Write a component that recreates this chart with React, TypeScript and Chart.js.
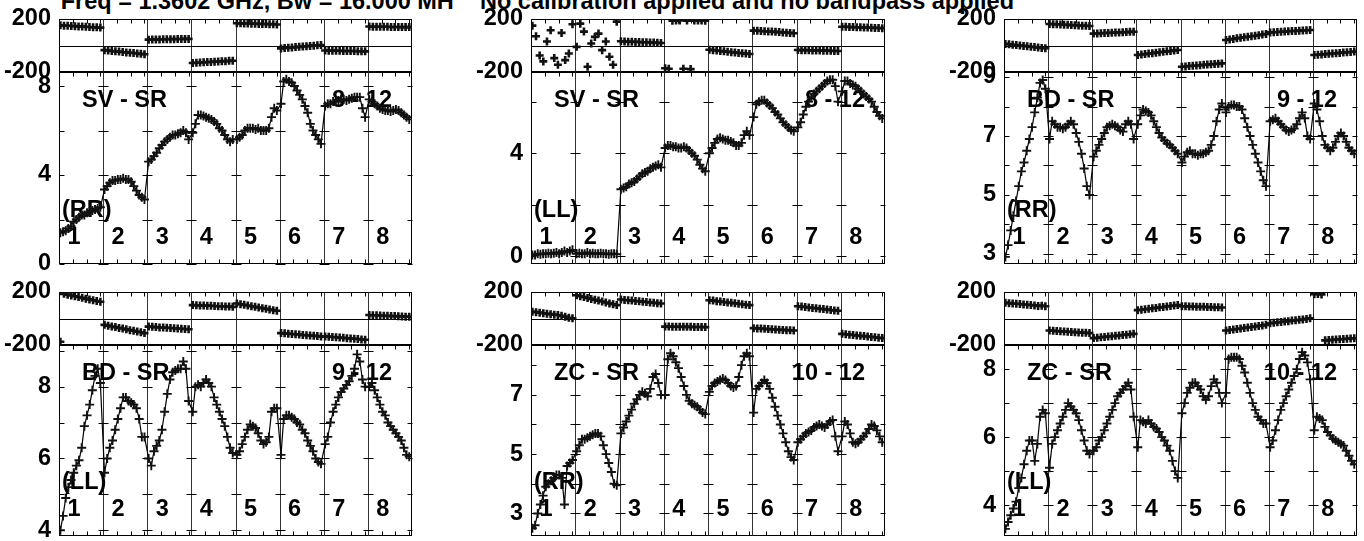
import { useEffect, useRef } from 'react';
import { Chart, registerables } from 'chart.js';

Chart.register(...registerables);

const FONT_FAMILY = '"Liberation Sans", Arial, Helvetica, sans-serif';
const FONT_SIZE = 23.5;

const TITLE_FREQ = 'Freq = 1.3602 GHz, Bw = 16.000 MH';
const TITLE_CAL = 'No calibration applied and no bandpass applied';

const IF_NUMBERS = ['1', '2', '3', '4', '5', '6', '7', '8'];
const CHANNELS_PER_IF = 32;
const CHANNEL_TICKS = [10, 20, 30];
const AMP_SAMPLES = 16;
const PHASE_SAMPLES = 12;

const PHASE_MIN = -200;
const PHASE_MAX = 200;
const PHASE_TICKS = [-200, 200];

const BASELINES = ['SV - SR', 'SV - SR', 'BD - SR', 'BD - SR', 'ZC - SR', 'ZC - SR'];
const IF_GROUPS = ['8 - 12', '8 - 12', '9 - 12', '9 - 12', '10 - 12', '10 - 12'];
const POLS = ['(RR)', '(LL)', '(RR)', '(LL)', '(RR)', '(LL)'];

const AMP_MIN = [0, -0.3, 2.66, 3.84, 2.24, 3.09];
const AMP_MAX = [8.63, 7.15, 9.17, 9.16, 8.68, 8.71];
const AMP_LABEL_TICKS = [[0, 4, 8], [0, 4], [3, 5, 7, 9], [4, 6, 8], [3, 5, 7], [4, 6, 8]];
const AMP_MINOR_STEP = [2, 2, 1, 1, 1, 1];

// Amplitude per IF (16 samples across each IF)
const AMP_SV_RR = [
  [1.4, 1.45, 1.5, 1.6, 1.7, 1.9, 2.0, 2.1, 2.2, 2.2, 2.3, 2.35, 2.4, 2.45, 2.5, 2.55],
  [3.35, 3.5, 3.65, 3.75, 3.75, 3.8, 3.8, 3.85, 3.8, 3.8, 3.7, 3.5, 3.3, 3.1, 3.0, 2.9],
  [4.6, 4.7, 4.85, 5.0, 5.2, 5.35, 5.5, 5.6, 5.7, 5.8, 5.8, 5.85, 5.9, 6.0, 5.9, 5.6],
  [5.9, 6.3, 6.7, 6.7, 6.65, 6.6, 6.55, 6.5, 6.4, 6.3, 6.1, 6.0, 5.8, 5.6, 5.5, 5.6],
  [5.6, 5.7, 5.8, 6.0, 6.1, 6.1, 6.1, 6.05, 6.1, 6.0, 6.0, 6.0, 6.1, 6.6, 7.0, 6.9],
  [7.2, 8.2, 8.3, 8.2, 8.15, 8.0, 7.8, 7.6, 7.4, 7.1, 6.8, 6.3, 6.0, 5.8, 5.6, 5.4],
  [7.1, 7.2, 7.2, 7.3, 7.3, 7.35, 7.4, 7.4, 7.35, 7.4, 7.45, 7.5, 7.5, 7.5, 7.0, 6.6],
  [7.4, 7.3, 7.2, 7.1, 7.0, 6.95, 6.9, 6.9, 6.85, 6.9, 6.95, 6.9, 6.8, 6.7, 6.6, 6.5],
];
const AMP_SV_LL = [
  [0.05, 0.05, 0.1, 0.08, 0.1, 0.1, 0.12, 0.1, 0.12, 0.15, 0.1, 0.15, 0.2, 0.15, 0.2, 0.25],
  [0.1, 0.12, 0.1, 0.1, 0.15, 0.1, 0.12, 0.1, 0.1, 0.12, 0.1, 0.1, 0.08, 0.1, 0.1, 0.08],
  [2.6, 2.65, 2.7, 2.8, 2.85, 2.9, 3.0, 3.1, 3.2, 3.25, 3.3, 3.4, 3.45, 3.5, 3.55, 3.45],
  [4.2, 4.3, 4.3, 4.25, 4.25, 4.2, 4.2, 4.25, 4.2, 4.1, 4.0, 3.9, 3.75, 3.55, 3.4, 3.3],
  [4.0, 4.2, 4.4, 4.55, 4.6, 4.55, 4.5, 4.5, 4.45, 4.4, 4.3, 4.3, 4.4, 4.7, 4.85, 4.7],
  [5.4, 5.9, 6.0, 6.05, 6.05, 5.95, 5.85, 5.75, 5.6, 5.5, 5.35, 5.2, 5.1, 5.0, 4.9, 4.85],
  [5.0, 5.2, 5.5, 5.8, 6.0, 6.15, 6.3, 6.4, 6.5, 6.6, 6.7, 6.8, 6.85, 6.85, 6.6, 6.0],
  [6.4, 6.8, 6.8, 6.7, 6.65, 6.6, 6.5, 6.4, 6.3, 6.2, 6.1, 6.0, 5.8, 5.6, 5.45, 5.35],
];
const AMP_BD_RR = [
  [2.9, 3.3, 3.8, 4.3, 4.8, 5.3, 5.8, 6.1, 6.5, 6.9, 7.3, 7.8, 8.3, 8.8, 8.9, 8.6],
  [6.9, 7.5, 7.4, 7.3, 7.3, 7.25, 7.3, 7.4, 7.5, 7.4, 7.1, 6.8, 6.4, 5.9, 5.3, 5.0],
  [6.3, 6.5, 6.7, 6.9, 7.1, 7.3, 7.35, 7.4, 7.35, 7.3, 7.2, 7.15, 7.4, 7.5, 7.4, 6.9],
  [7.4, 7.7, 7.9, 7.85, 7.8, 7.7, 7.5, 7.3, 7.1, 6.95, 6.85, 6.75, 6.7, 6.6, 6.5, 6.4],
  [6.1, 6.3, 6.45, 6.5, 6.4, 6.4, 6.35, 6.4, 6.4, 6.45, 6.5, 6.7, 7.0, 7.5, 7.9, 8.1],
  [7.8, 8.0, 8.05, 8.05, 8.0, 8.0, 7.9, 7.6, 7.3, 7.0, 6.7, 6.4, 6.1, 5.8, 5.5, 5.3],
  [7.5, 7.55, 7.6, 7.5, 7.4, 7.3, 7.2, 7.15, 7.2, 7.25, 7.4, 7.6, 7.8, 7.6, 7.0, 6.9],
  [8.1, 7.9, 7.5, 7.0, 6.7, 6.6, 6.5, 6.6, 6.8, 7.0, 7.1, 7.0, 6.8, 6.6, 6.5, 6.4],
];
const AMP_BD_LL = [
  [4.0, 4.4, 4.9, 5.2, 5.4, 5.6, 5.8, 5.95, 6.3, 6.9, 7.2, 7.5, 7.9, 8.3, 8.5, 8.1],
  [5.6, 6.0, 6.3, 6.5, 6.8, 7.1, 7.4, 7.7, 7.7, 7.6, 7.55, 7.5, 7.4, 7.1, 6.6, 6.6],
  [6.0, 5.8, 6.2, 6.35, 6.5, 6.8, 7.3, 7.8, 8.2, 8.4, 8.45, 8.5, 8.5, 8.7, 8.5, 7.6],
  [7.3, 8.0, 8.05, 8.0, 8.1, 8.2, 8.1, 8.0, 7.7, 7.5, 7.3, 7.1, 6.9, 6.6, 6.3, 6.15],
  [6.1, 6.2, 6.4, 6.6, 6.8, 6.95, 6.9, 6.85, 6.7, 6.5, 6.4, 6.45, 6.6, 7.3, 7.4, 7.4],
  [6.1, 7.1, 7.2, 7.2, 7.15, 7.1, 7.0, 6.95, 6.8, 6.7, 6.5, 6.35, 6.2, 6.0, 5.9, 5.85],
  [6.4, 6.6, 7.0, 7.3, 7.5, 7.7, 7.85, 7.95, 8.05, 8.15, 8.3, 8.5, 8.9, 8.7, 8.2, 8.0],
  [8.0, 8.1, 7.9, 7.7, 7.5, 7.3, 7.2, 7.0, 6.9, 6.8, 6.7, 6.6, 6.5, 6.3, 6.1, 6.05],
];
const AMP_ZC_RR = [
  [2.5, 2.6, 3.0, 3.3, 3.6, 3.9, 4.0, 4.1, 4.2, 4.3, 4.3, 4.2, 3.3, 4.6, 4.7, 4.8],
  [5.1, 5.3, 5.5, 5.5, 5.55, 5.6, 5.65, 5.7, 5.7, 5.6, 5.3, 5.0, 4.7, 4.4, 4.0, 3.95],
  [5.7, 5.9, 6.1, 6.3, 6.5, 6.7, 6.85, 7.0, 7.1, 7.05, 6.95, 7.2, 7.6, 7.7, 7.4, 7.0],
  [7.0, 8.2, 8.4, 8.3, 8.1, 7.9, 7.6, 7.3, 7.0, 6.8, 6.7, 6.65, 6.6, 6.5, 6.4, 6.35],
  [7.1, 7.3, 7.4, 7.45, 7.5, 7.55, 7.5, 7.4, 7.3, 7.25, 7.3, 7.6, 8.0, 8.3, 8.4, 8.3],
  [6.4, 7.2, 7.3, 7.4, 7.5, 7.4, 7.2, 6.9, 6.6, 6.3, 6.0, 5.7, 5.4, 5.1, 4.9, 4.8],
  [5.4, 5.5, 5.6, 5.7, 5.75, 5.8, 5.9, 5.95, 6.0, 5.95, 5.9, 6.0, 6.1, 6.15, 5.6, 5.1],
  [5.6, 6.1, 6.0, 5.7, 5.4, 5.35, 5.4, 5.5, 5.6, 5.7, 5.85, 6.0, 5.95, 5.8, 5.6, 5.4],
];
const AMP_ZC_LL = [
  [3.3, 3.5, 3.7, 3.9, 4.1, 4.5, 4.8, 5.2, 5.6, 5.9, 5.9, 5.3, 5.8, 6.6, 6.8, 6.7],
  [5.1, 5.8, 6.0, 6.2, 6.4, 6.6, 6.8, 7.0, 6.9, 6.8, 6.7, 6.5, 6.2, 5.9, 5.6, 5.5],
  [5.6, 5.7, 5.9, 6.0, 6.2, 6.4, 6.6, 6.8, 7.0, 7.2, 7.3, 7.4, 7.5, 7.6, 7.4, 6.6],
  [5.7, 6.5, 6.45, 6.4, 6.5, 6.4, 6.3, 6.25, 6.15, 6.0, 5.9, 5.75, 5.6, 5.3, 5.0, 4.8],
  [6.7, 7.0, 7.3, 7.45, 7.6, 7.6, 7.5, 7.4, 7.2, 7.1, 7.2, 7.5, 7.7, 7.6, 7.3, 7.0],
  [7.3, 8.3, 8.35, 8.35, 8.35, 8.3, 8.1, 7.9, 7.6, 7.3, 7.0, 6.8, 6.6, 6.5, 6.4, 6.4],
  [5.7, 5.9, 6.2, 6.5, 6.8, 7.0, 7.2, 7.4, 7.6, 7.8, 8.0, 8.3, 8.5, 8.4, 8.2, 7.7],
  [6.2, 6.6, 6.55, 6.5, 6.3, 6.15, 6.05, 5.95, 5.9, 5.85, 5.8, 5.75, 5.6, 5.45, 5.3, 5.2],
];

// Phase (degrees) per IF (12 samples across each IF)
const PHASE_SV_RR = [
  [152, 150, 149, 147, 146, 144, 143, 141, 140, 138, 137, 135],
  [-35, -38, -41, -44, -46, -49, -52, -55, -57, -60, -63, -66],
  [44, 45, 46, 46, 47, 47, 48, 48, 49, 49, 50, 50],
  [-132, -130, -128, -127, -125, -124, -122, -121, -119, -118, -116, -115],
  [168, 167, 166, 166, 165, 164, 163, 162, 162, 161, 160, 159],
  [-22, -19, -17, -15, -12, -10, -8, -6, -3, -1, 1, 3],
  [-38, -39, -39, -40, -40, -41, -41, -42, -42, -43, -43, -44],
  [143, 142, 142, 141, 141, 141, 140, 140, 140, 139, 139, 139],
];
const PHASE_SV_LL = [
  [150, 70, -75, -120, 30, 115, -95, -145, 95, -110, -60, 160],
  [-10, 165, 105, -160, 15, 65, 90, -35, 30, -85, -145, 180],
  [32, 30, 29, 28, 27, 26, 25, 24, 23, 22, 20, 19],
  [-172, -175, 187, 188, 189, -176, 188, -178, 188, 189, 188, 187],
  [-32, -35, -38, -41, -44, -47, -50, -53, -56, -58, -61, -64],
  [112, 111, 109, 108, 106, 105, 103, 101, 99, 97, 95, 93],
  [-34, -35, -35, -36, -37, -37, -38, -39, -39, -40, -41, -41],
  [142, 141, 140, 139, 138, 137, 136, 135, 134, 133, 132, 131],
];
const PHASE_BD_RR = [
  [12, 9, 6, 3, 0, -3, -6, -9, -12, -15, -18, -21],
  [162, 161, 160, 158, 157, 156, 154, 153, 151, 150, 149, 147],
  [90, 91, 92, 94, 95, 96, 98, 99, 100, 101, 103, 104],
  [-72, -68, -65, -61, -58, -54, -51, -47, -44, -41, -37, -34],
  [-160, -158, -155, -153, -151, -149, -146, -144, -142, -140, -137, -135],
  [42, 46, 50, 54, 58, 62, 66, 70, 74, 78, 83, 87],
  [99, 100, 102, 104, 105, 107, 109, 110, 112, 113, 115, 117],
  [-72, -70, -67, -65, -63, -60, -58, -56, -53, -51, -49, -46],
];
const PHASE_BD_LL = [
  [-175, 186, 180, 174, 168, 162, 156, 150, 144, 138, 132, 126],
  [-48, -54, -60, -65, -71, -76, -82, -88, -93, -99, -104, -110],
  [-61, -63, -65, -67, -68, -70, -72, -74, -76, -77, -79, -81],
  [101, 100, 99, 98, 97, 96, 94, 93, 92, 91, 90, 88],
  [113, 108, 103, 98, 93, 88, 83, 78, 73, 68, 63, 58],
  [-110, -112, -115, -117, -119, -121, -124, -126, -128, -130, -133, -135],
  [-135, -137, -140, -142, -144, -146, -149, -151, -153, -155, -158, -160],
  [26, 25, 24, 23, 21, 20, 19, 18, 17, 16, 14, 13],
];
const PHASE_ZC_RR = [
  [51, 48, 44, 40, 36, 33, 29, 26, 20, 14, 6, 1],
  [175, 168, 162, 155, 148, 141, 135, 128, 121, 114, 108, 101],
  [143, 140, 138, 135, 132, 130, 127, 124, 121, 119, 116, 113],
  [-61, -61, -62, -62, -62, -63, -63, -63, -64, -64, -64, -65],
  [138, 135, 131, 128, 125, 121, 118, 115, 111, 108, 104, 101],
  [-73, -75, -76, -78, -80, -81, -83, -85, -86, -88, -89, -91],
  [93, 90, 87, 83, 80, 77, 74, 71, 68, 64, 61, 58],
  [-116, -119, -122, -125, -128, -131, -133, -136, -139, -142, -145, -148],
];
const PHASE_ZC_LL = [
  [118, 116, 113, 111, 109, 106, 104, 102, 99, 95, 97, 93],
  [-91, -93, -95, -96, -98, -100, -101, -103, -105, -107, -108, -110],
  [-148, -145, -142, -139, -136, -134, -131, -128, -125, -122, -119, -116],
  [63, 66, 70, 73, 77, 80, 84, 87, 91, 94, 98, 101],
  [93, 92, 91, 90, 89, 88, 88, 87, 86, 85, 84, 83],
  [-91, -87, -83, -79, -75, -71, -68, -64, -60, -56, -52, -48],
  [-36, -33, -29, -26, -23, -20, -16, -13, -10, -7, -3, 1],
  [183, 185, 182, -165, -163, -161, -159, -157, -155, -153, -151, -149],
];

const AMPS = [AMP_SV_RR, AMP_SV_LL, AMP_BD_RR, AMP_BD_LL, AMP_ZC_RR, AMP_ZC_LL];
const PHASES = [PHASE_SV_RR, PHASE_SV_LL, PHASE_BD_RR, PHASE_BD_LL, PHASE_ZC_RR, PHASE_ZC_LL];

// Layout (page pixels)
const COLS = [
  { left: 59, right: 412 },
  { left: 531, right: 885 },
  { left: 1004, right: 1357 },
];
const ROWS = [
  { top: 19, mid: 72, bottom: 264 },
  { top: 292, mid: 345, bottom: 536 },
];
const AXIS_W = 70;
const PAD_T = 28;
const PAD_B = 28;
const PAD_R = 8;

const sampleChannel = (k: number, n: number) => 1 + (k * 29) / (n - 1);

const crisp = (v: number) => Math.round(v) + 0.5;

function makeDecor(idx: number, kind: 'amp' | 'phase') {
  return {
    id: 'decor',
    beforeDatasetsDraw(chart: any) {
      const { ctx, chartArea: a } = chart;
      const xs = chart.scales.x;
      const ys = chart.scales.y;
      ctx.save();
      ctx.strokeStyle = '#000';
      ctx.lineWidth = 1;
      const l = crisp(a.left);
      const r = crisp(a.right) - 1;
      const t = crisp(a.top);
      const b = crisp(a.bottom) - 1;
      ctx.strokeRect(l, t, r - l, b - t);
      // IF dividers
      ctx.strokeStyle = '#333';
      for (let i = 1; i < IF_NUMBERS.length; i++) {
        const px = crisp(xs.getPixelForValue(i * CHANNELS_PER_IF));
        ctx.beginPath();
        ctx.moveTo(px, t);
        ctx.lineTo(px, b);
        ctx.stroke();
      }
      ctx.strokeStyle = '#000';
      if (kind === 'phase') {
        const py = crisp(ys.getPixelForValue(0));
        ctx.beginPath();
        ctx.moveTo(l, py);
        ctx.lineTo(r, py);
        ctx.stroke();
      }
      // channel ticks
      const TL = 4;
      for (let i = 0; i < IF_NUMBERS.length; i++) {
        for (const c of CHANNEL_TICKS) {
          const px = crisp(xs.getPixelForValue(i * CHANNELS_PER_IF + c));
          ctx.beginPath();
          ctx.moveTo(px, t);
          ctx.lineTo(px, t + TL);
          if (kind === 'amp') {
            ctx.moveTo(px, b);
            ctx.lineTo(px, b - TL);
          }
          ctx.stroke();
        }
      }
      if (kind === 'amp') {
        // amplitude ticks at each IF boundary
        const step = AMP_MINOR_STEP[idx];
        const mn = AMP_MIN[idx];
        const mx = AMP_MAX[idx];
        const HL = 5;
        for (let v = Math.ceil(mn / step) * step; v <= mx + 1e-9; v += step) {
          const py = crisp(ys.getPixelForValue(v));
          for (let i = 0; i <= IF_NUMBERS.length; i++) {
            const px = crisp(xs.getPixelForValue(i * CHANNELS_PER_IF));
            ctx.beginPath();
            ctx.moveTo(i === 0 ? px : px - HL, py);
            ctx.lineTo(i === IF_NUMBERS.length ? px : px + HL, py);
            ctx.stroke();
          }
        }
        // labels
        ctx.fillStyle = '#000';
        ctx.font = `bold ${FONT_SIZE}px ${FONT_FAMILY}`;
        ctx.textBaseline = 'alphabetic';
        ctx.textAlign = 'left';
        ctx.fillText(BASELINES[idx], a.left + 23, a.top + 35);
        ctx.textAlign = 'right';
        ctx.fillText(IF_GROUPS[idx], a.right - 20, a.top + 35);
        ctx.textAlign = 'left';
        ctx.fillText(POLS[idx], a.left + 3, a.bottom - 47);
        ctx.textAlign = 'center';
        IF_NUMBERS.forEach((n, i) => {
          const px = xs.getPixelForValue(i * CHANNELS_PER_IF);
          ctx.fillText(n, px + 15, a.bottom - 20);
        });
      }
      ctx.restore();
    },
  };
}

export default function App() {
  const hostRef = useRef<HTMLDivElement>(null);

  useEffect(() => {
    const host = hostRef.current;
    if (!host) return;
    const charts: Chart[] = [];
    const canvases: HTMLCanvasElement[] = [];

    AMPS.forEach((amp, idx) => {
      const col = COLS[idx % 3];
      const row = ROWS[Math.floor(idx / 3)];
      (['phase', 'amp'] as const).forEach((kind) => {
        const top = kind === 'phase' ? row.top : row.mid;
        const bottom = kind === 'phase' ? row.mid : row.bottom;
        const w = col.right - col.left + AXIS_W + PAD_R;
        const h = bottom - top + PAD_T + PAD_B;
        const cv = document.createElement('canvas');
        cv.width = w;
        cv.height = h;
        cv.style.position = 'absolute';
        cv.style.left = `${col.left - AXIS_W}px`;
        cv.style.top = `${top - PAD_T}px`;
        cv.style.width = `${w}px`;
        cv.style.height = `${h}px`;
        host.appendChild(cv);
        canvases.push(cv);

        const src = kind === 'amp' ? amp : PHASES[idx];
        const n = kind === 'amp' ? AMP_SAMPLES : PHASE_SAMPLES;
        const points = src.flatMap((vals, i) =>
          vals.map((v, k) => ({ x: i * CHANNELS_PER_IF + sampleChannel(k, n), y: v }))
        );
        const yMin = kind === 'amp' ? AMP_MIN[idx] : PHASE_MIN;
        const yMax = kind === 'amp' ? AMP_MAX[idx] : PHASE_MAX;
        const labelTicks = kind === 'amp' ? AMP_LABEL_TICKS[idx] : PHASE_TICKS;

        const chart = new Chart(cv, {
          type: 'scatter',
          data: {
            datasets: [
              {
                data: points,
                showLine: kind === 'amp',
                borderColor: '#000',
                borderWidth: 1.2,
                pointStyle: 'cross',
                pointRadius: kind === 'amp' ? 4.5 : 4,
                pointBorderColor: '#111',
                pointBorderWidth: kind === 'amp' ? 1.9 : 2.6,
                pointBackgroundColor: '#111',
                tension: 0,
              } as any,
            ],
          },
          options: {
            animation: false,
            responsive: false,
            maintainAspectRatio: false,
            events: [],
            layout: { padding: { top: PAD_T, right: PAD_R, bottom: PAD_B, left: 0 } },
            plugins: {
              legend: { display: false },
              tooltip: { enabled: false },
              title: { display: false },
            },
            scales: {
              x: {
                type: 'linear',
                display: false,
                min: 0,
                max: IF_NUMBERS.length * CHANNELS_PER_IF,
              },
              y: {
                type: 'linear',
                position: 'left',
                min: yMin,
                max: yMax,
                bounds: 'data',
                afterBuildTicks: (scale: any) => {
                  scale.ticks = labelTicks.map((v) => ({ value: v }));
                },
                afterFit: (scale: any) => {
                  scale.width = AXIS_W;
                },
                grid: { display: false, drawTicks: false },
                border: { display: false },
                ticks: {
                  color: '#000',
                  padding: 8,
                  autoSkip: false,
                  font: { family: FONT_FAMILY, size: FONT_SIZE, weight: 'bold' },
                  callback: (v: any) => String(v),
                },
              },
            },
          } as any,
          plugins: [makeDecor(idx, kind)],
        });
        charts.push(chart);
      });
    });

    return () => {
      charts.forEach((c) => c.destroy());
      canvases.forEach((c) => c.remove());
    };
  }, []);

  const titleStyle: React.CSSProperties = {
    position: 'absolute',
    top: -10.4,
    fontFamily: FONT_FAMILY,
    fontWeight: 'bold',
    fontSize: FONT_SIZE,
    lineHeight: `${FONT_SIZE}px`,
    whiteSpace: 'nowrap',
    color: '#000',
  };

  return (
    <div
      ref={hostRef}
      style={{
        position: 'absolute',
        left: 0,
        top: 0,
        width: 1364,
        height: 541,
        overflow: 'hidden',
        background: '#fff',
      }}
    >
      <div style={{ ...titleStyle, left: 60.7 }}>{TITLE_FREQ}</div>
      <div style={{ ...titleStyle, left: 480 }}>{TITLE_CAL}</div>
    </div>
  );
}
